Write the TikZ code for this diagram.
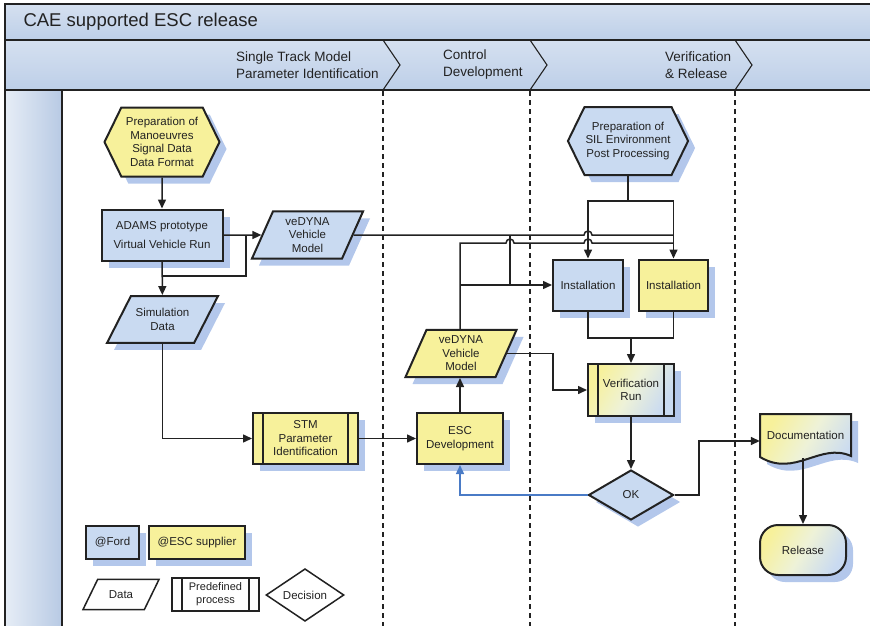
\documentclass[tikz,border=0pt]{standalone}
\usepackage{fontspec}
\setmainfont{Liberation Sans}
\usepackage{xcolor}
\usepackage{tikz}
\usetikzlibrary{arrows.meta,positioning,shapes.geometric,shapes.symbols,shadows}
\definecolor{bluefill}{HTML}{C9DAF1}
\definecolor{yellowfill}{HTML}{F7F19B}
\definecolor{blendmid}{HTML}{EEF2D8}
\definecolor{shadowblue}{HTML}{B3C7EB}
\definecolor{linegray}{HTML}{222222}
\definecolor{backblue}{HTML}{4A7BC6}
\definecolor{titletop}{HTML}{D5E0F0}
\definecolor{titlebot}{HTML}{BDCFE8}
\definecolor{bandleft}{HTML}{E6EDF6}
\definecolor{bandright}{HTML}{B8CAE4}
\newcommand{\boxfont}{\fontsize{11.5pt}{13.5pt}\selectfont}
\newcommand{\headfont}{\fontsize{13.5pt}{17pt}\selectfont}
\tikzstyle{shadowed}=[drop shadow={shadow xshift=7pt, shadow yshift=-7pt, fill=shadowblue, opacity=1}]
\tikzstyle{ford}=[fill=bluefill, shadowed]
\tikzstyle{supplier}=[fill=yellowfill, shadowed]
\tikzstyle{shared}=[left color=yellowfill, right color=bluefill, middle color=blendmid, shading angle=60, shadowed]
\tikzstyle{box}=[rectangle, draw=linegray, line width=2pt, minimum height=51pt,
  inner sep=1pt, align=center, font=\boxfont, text=linegray]
\tikzstyle{datashape}=[trapezium, trapezium left angle=66, trapezium right angle=114,
  trapezium stretches body, draw=linegray, line width=2pt, minimum width=111pt,
  inner xsep=1pt, inner ysep=6pt, align=center, font=\boxfont, text=linegray]
\tikzstyle{hexa}=[signal, signal to=west and east, signal pointer angle=128, draw=linegray,
  line width=2pt, minimum width=115pt, minimum height=69pt, inner sep=1pt,
  align=center, font=\boxfont, text=linegray]
\tikzstyle{predef}=[box, path picture={\draw[linegray, line width=1.5pt]
  ([xshift=10pt]path picture bounding box.north west) -- ([xshift=10pt]path picture bounding box.south west)
  ([xshift=-10pt]path picture bounding box.north east) -- ([xshift=-10pt]path picture bounding box.south east);}]
\tikzstyle{decision}=[diamond, draw=linegray, line width=2pt, minimum width=85pt,
  minimum height=50pt, inner sep=0pt, font=\boxfont, text=linegray]
\tikzstyle{terminal}=[box, rounded corners=18pt, minimum width=86pt, minimum height=50pt]
\tikzstyle{arrow}=[-{Stealth[length=9pt, width=8pt, inset=0pt]}, line width=1.5pt, draw=linegray]
\tikzstyle{link}=[line width=1.5pt, draw=linegray]
\tikzstyle{lane}=[draw=linegray, line width=1.4pt, dash pattern=on 5pt off 4pt]
\tikzstyle{frame}=[draw=linegray, line width=1.4pt]

\begin{document}
\begin{tikzpicture}[x=1pt, y=-1pt]
\useasboundingbox (0,0) rectangle (870,626);
% title, phase header and swimlane
\shade[top color=titletop, bottom color=titlebot] (5,4) rectangle (870,40);
\shade[top color=titletop, bottom color=titlebot] (5,40) rectangle (870,90);
\shade[left color=bandleft, right color=bandright] (5,90) rectangle (62,626);
\draw[frame] (5,626) -- (5,4) -- (870,4);
\draw[frame] (5,40) -- (870,40);
\draw[frame] (62,90) -- (62,626);
\draw[draw=linegray, line width=2.4pt] (5,90) -- (870,90);
\foreach \xx in {383,530,735} {
  \draw[draw=linegray, line width=1.1pt] (\xx,40) -- (\xx+17,65) -- (\xx,90);
  \draw[lane] (\xx,91) -- (\xx,626);
}
\node[anchor=west, font=\fontsize{18.5pt}{22pt}\selectfont, text=linegray] (title) at (20,22) {CAE supported ESC release};
\node[anchor=west, align=left, font=\headfont, text=linegray, inner sep=0pt] (stmphase) at (236,65) {Single Track Model\\Parameter Identification};
\node[anchor=west, align=left, font=\headfont, text=linegray, inner sep=0pt] (ctrlphase) at (443,65) {Control\\Development};
\node[anchor=west, align=left, font=\headfont, text=linegray, inner sep=0pt] (relphase) at (665,65) {Verification\\\& Release};

% process steps
\node[hexa, supplier] (prepman) at (162,142) {Preparation of\\Manoeuvres\\Signal Data\\Data Format};
\node[box, ford, minimum width=121pt] (adams) at (162,235) {ADAMS prototype\\[6pt]Virtual Vehicle Run};
\node[datashape, ford] (vedyna1) at (307.5,235) {veDYNA\\Vehicle\\Model};
\node[datashape, ford, inner ysep=12.5pt, trapezium left angle=63, trapezium right angle=117] (simdata) at (162.5,319.5) {Simulation\\Data};
\node[predef, supplier, minimum width=105pt] (stm) at (305.5,438.5) {STM\\Parameter\\Identification};
\node[box, supplier, minimum width=86pt] (escdev) at (460,438.5) {ESC\\Development};
\node[datashape, supplier] (vedyna2) at (461,353.5) {veDYNA\\Vehicle\\Model};
\node[hexa, ford, minimum width=114pt, minimum height=68pt] (prepsil) at (628,141) {Preparation of\\SIL Environment\\Post Processing};
\node[box, ford, minimum width=70pt] (instford) at (588,285) {Installation};
\node[box, supplier, minimum width=69pt] (instesc) at (673.5,285) {Installation};
\node[predef, shared, minimum width=86pt, minimum height=52pt] (verrun) at (631,390) {Verification\\Run};
\node[decision, ford] (ok) at (631,495) {OK};
\path[draw=linegray, line width=2pt, shared] (760,414) -- (851,414) -- (851,456)
  .. controls (820,442) and (795,478) .. (760,457) -- cycle;
\node[font=\boxfont, text=linegray, minimum width=91pt, minimum height=45pt, inner sep=0pt] (doc) at (805.5,435.5) {Documentation};
\node[terminal, shared] (release) at (803,550) {Release};

% legend
\node[box, ford, minimum width=53pt, minimum height=33pt] (lford) at (112.5,542.5) {@Ford};
\node[box, supplier, minimum width=96pt, minimum height=33pt] (lesc) at (197,542.5) {@ESC supplier};
\node[datashape, fill=white, line width=1.5pt, minimum width=76pt, inner ysep=11pt, trapezium left angle=64, trapezium right angle=116] (ldata) at (121,594.5) {Data};
\node[predef, fill=white, line width=1.5pt, minimum width=87pt, minimum height=33pt, font=\fontsize{11pt}{13pt}\selectfont] (lpredef) at (215.5,594.5) {Predefined\\process};
\node[decision, fill=white, line width=1.5pt, minimum width=78pt, minimum height=34pt] (ldec) at (305,595) {Decision};

% junction points
\coordinate (splitA) at (162,276);
\coordinate (mergeA) at (246,276);
\coordinate (tapA) at (510,235);
\coordinate (riseB) at (460,243);
\coordinate (silsplit) at (628,201);
\coordinate (instjoin) at (631,338);
\coordinate (turnV) at (553,390);
\coordinate (docin) at (699,441);

% connectors
\draw[arrow] (prepman) -- (adams);
\draw[arrow] (adams) -- (vedyna1);
\draw[arrow] (adams) -- (simdata);
\draw[link] (splitA) -- (mergeA) -- (mergeA |- adams.east);
\draw[arrow] (simdata) |- (stm);
\draw[arrow] (stm) -- (escdev);
\draw[arrow] (escdev) -- (escdev |- vedyna2.south);
\draw[link] (prepsil) -- (silsplit);
\draw[arrow] (silsplit) -| (instford.north);
\draw[arrow] (silsplit) -| (instesc.north);
\draw[link] (vedyna1.east) -- ([xshift=-4pt]instford.north |- vedyna1.east)
  arc[start angle=180, end angle=0, radius=4pt] -- (instesc.north |- vedyna1.east);
\draw[link] (riseB |- vedyna2.north) -- (riseB) -- ([xshift=-4pt]tapA |- riseB)
  arc[start angle=180, end angle=0, radius=4pt] -- ([xshift=-4pt]instford.north |- riseB)
  arc[start angle=180, end angle=0, radius=4pt] -- (instesc.north |- riseB);
\draw[link] (tapA) -- (tapA |- instford.west);
\draw[arrow] (riseB |- instford.west) -- (instford.west);
\draw[link] (instford.south) |- (instjoin);
\draw[link] (instesc.south) |- (instjoin);
\draw[arrow] (instjoin) -- (verrun.north);
\draw[arrow] (vedyna2.east) -| (turnV) -- (verrun.west);
\draw[arrow] (verrun) -- (ok);
\draw[arrow, draw=backblue] (ok.west) -| (escdev.south);
\draw[arrow] (ok.east) -| (docin) -- (doc.west |- docin);
\draw[arrow] (release.north |- doc.south) -- (release.north);
\end{tikzpicture}
\end{document}
